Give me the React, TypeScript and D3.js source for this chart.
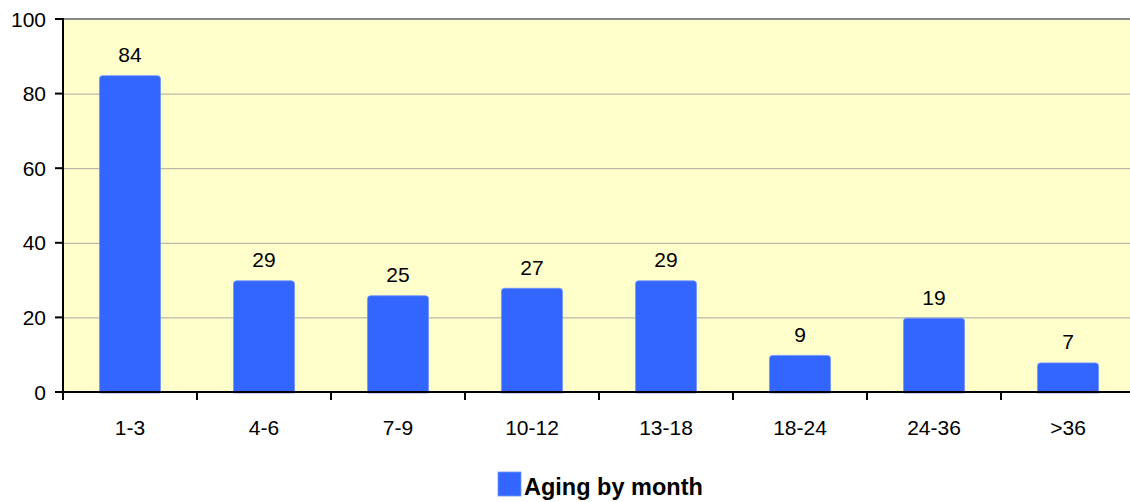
import { useEffect, useRef } from 'react';
import * as d3 from 'd3';

const categories = ['1-3', '4-6', '7-9', '10-12', '13-18', '18-24', '24-36', '>36'];
const values = [84, 29, 25, 27, 29, 9, 19, 7];
const yTicks = [0, 20, 40, 60, 80, 100];
const seriesName = 'Aging by month';

const WIDTH = 1130;
const HEIGHT = 502;
const BAR_COLOR = '#3366FF';
const FONT = '"Liberation Sans", Arial, sans-serif';

export default function App() {
  const svgRef = useRef<SVGSVGElement>(null);

  useEffect(() => {
    const svg = d3.select(svgRef.current);
    svg.selectAll('*').remove();

    const left = 63;
    const top = 19;
    const bottom = 392;
    const band = 134;
    const right = left + band * categories.length;

    const x = d3.scaleBand<string>()
      .domain(categories)
      .range([left, right])
      .paddingInner(0.545)
      .paddingOuter(0.2725);

    const y = d3.scaleLinear().domain([0, 100]).range([bottom, top]);

    // plot background
    svg.append('rect')
      .attr('x', left)
      .attr('y', top)
      .attr('width', right - left)
      .attr('height', bottom - top)
      .attr('fill', '#FFFFCC');

    // gridlines
    svg.append('g')
      .selectAll('line')
      .data(yTicks.filter(t => t > 0 && t < 100))
      .join('line')
      .attr('x1', left)
      .attr('x2', right)
      .attr('y1', d => y(d) + 0.5)
      .attr('y2', d => y(d) + 0.5)
      .attr('stroke', '#A8A8A0')
      .attr('stroke-width', 1);

    // top border
    svg.append('line')
      .attr('x1', left)
      .attr('x2', right)
      .attr('y1', y(100))
      .attr('y2', y(100))
      .attr('stroke', '#888888')
      .attr('stroke-width', 2);

    // bars: slightly rounded tops, drawn a touch high like the original
    const r = 3;
    const lift = 3;
    svg.append('g')
      .selectAll('path')
      .data(values)
      .join('path')
      .attr('d', (d, i) => {
        const x0 = x(categories[i])!;
        const w = x.bandwidth();
        const y0 = y(d) - lift;
        const yb = bottom + 1;
        return `M${x0},${yb} L${x0},${y0 + r} Q${x0},${y0} ${x0 + r},${y0} L${x0 + w - r},${y0} Q${x0 + w},${y0} ${x0 + w},${y0 + r} L${x0 + w},${yb} Z`;
      })
      .attr('fill', BAR_COLOR)
      .attr('stroke', '#6F93FF')
      .attr('stroke-width', 0.8);

    // value labels
    svg.append('g')
      .selectAll('text')
      .data(values)
      .join('text')
      .attr('x', (_, i) => x(categories[i])! + x.bandwidth() / 2)
      .attr('y', d => y(d) - 16.5)
      .attr('text-anchor', 'middle')
      .attr('font-family', FONT)
      .attr('font-size', 21)
      .attr('fill', '#000')
      .text(d => d);

    // y axis
    const yAxis = svg.append('g');
    yAxis.append('line')
      .attr('x1', left)
      .attr('x2', left)
      .attr('y1', top - 1)
      .attr('y2', bottom + 8)
      .attr('stroke', '#000')
      .attr('stroke-width', 2);
    yAxis.selectAll('line.tick')
      .data(yTicks)
      .join('line')
      .attr('class', 'tick')
      .attr('x1', left - 8)
      .attr('x2', left)
      .attr('y1', d => y(d))
      .attr('y2', d => y(d))
      .attr('stroke', '#000')
      .attr('stroke-width', 2);
    yAxis.selectAll('text')
      .data(yTicks)
      .join('text')
      .attr('x', left - 17)
      .attr('y', d => y(d))
      .attr('dy', '0.36em')
      .attr('text-anchor', 'end')
      .attr('font-family', FONT)
      .attr('font-size', 21)
      .text(d => d);

    // x axis
    const xAxis = svg.append('g');
    xAxis.append('line')
      .attr('x1', left - 8)
      .attr('x2', right)
      .attr('y1', bottom)
      .attr('y2', bottom)
      .attr('stroke', '#000')
      .attr('stroke-width', 2);
    xAxis.selectAll('line.tick')
      .data(d3.range(categories.length + 1))
      .join('line')
      .attr('class', 'tick')
      .attr('x1', i => left + i * band)
      .attr('x2', i => left + i * band)
      .attr('y1', bottom)
      .attr('y2', bottom + 8)
      .attr('stroke', '#000')
      .attr('stroke-width', 2);
    xAxis.selectAll('text')
      .data(categories)
      .join('text')
      .attr('x', d => x(d)! + x.bandwidth() / 2)
      .attr('y', 435)
      .attr('text-anchor', 'middle')
      .attr('font-family', FONT)
      .attr('font-size', 21)
      .text(d => d);

    // legend
    const legend = svg.append('g');
    legend.append('rect')
      .attr('x', 498)
      .attr('y', 472)
      .attr('width', 23)
      .attr('height', 24)
      .attr('fill', BAR_COLOR)
      .attr('stroke', '#6F93FF')
      .attr('stroke-width', 0.8);
    legend.append('text')
      .attr('x', 524)
      .attr('y', 495)
      .attr('font-family', FONT)
      .attr('font-size', 23.5)
      .attr('font-weight', 'bold')
      .text(seriesName);
  }, []);

  return (
    <svg
      ref={svgRef}
      width={WIDTH}
      height={HEIGHT}
      style={{ position: 'absolute', left: 0, top: 0, background: '#fff' }}
    />
  );
}
